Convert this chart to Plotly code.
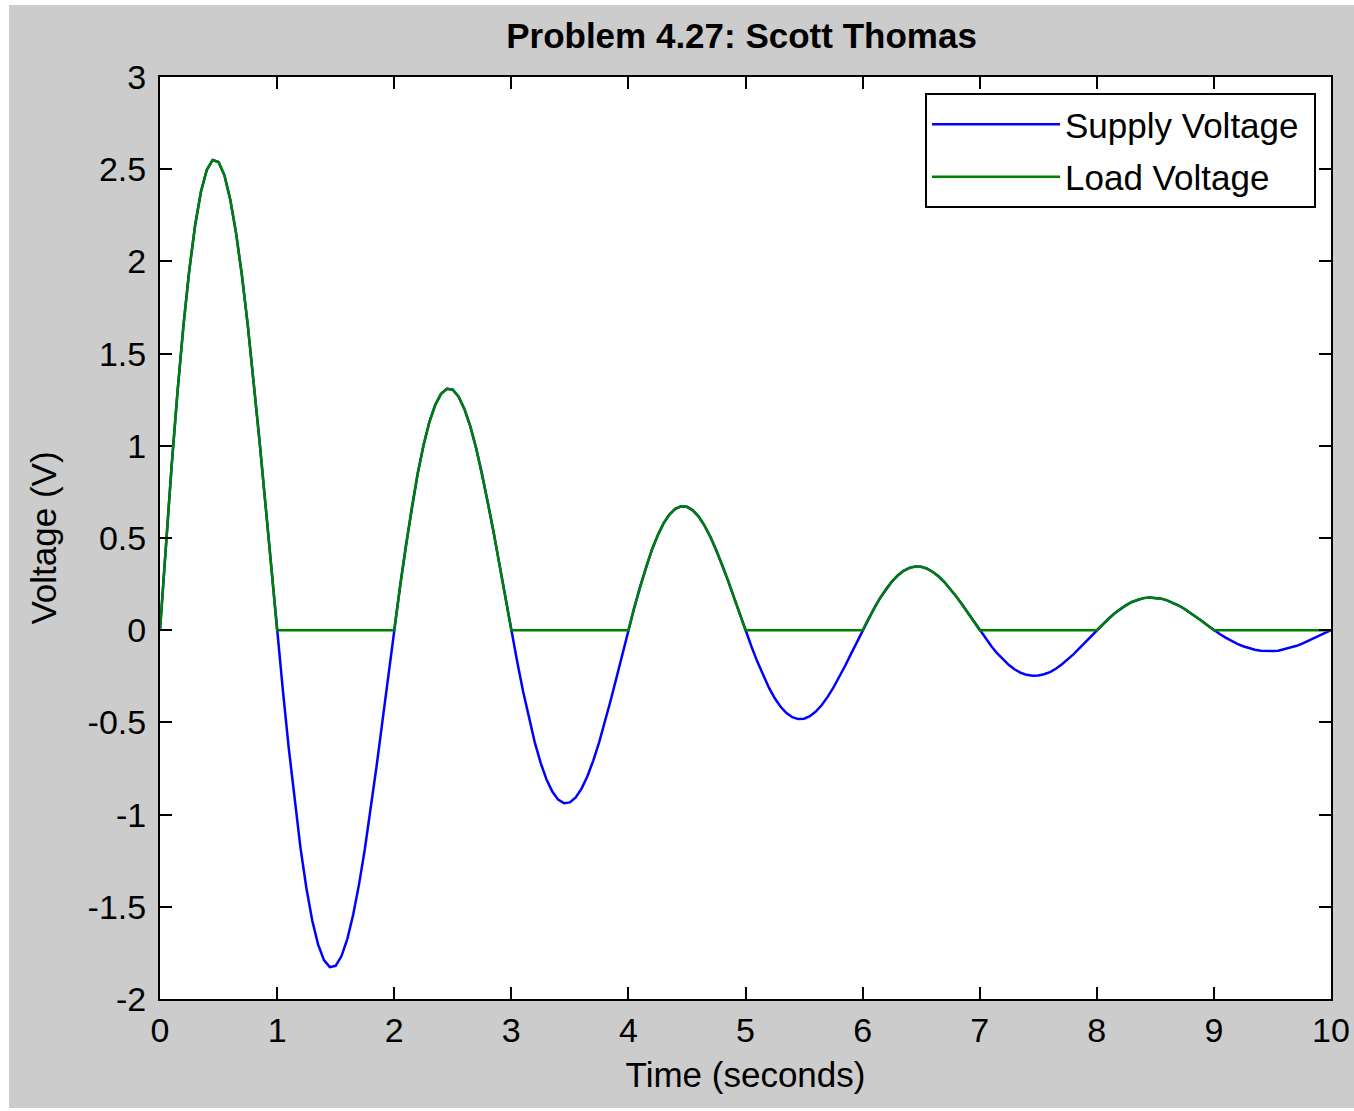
import numpy as np
import plotly.graph_objects as go

# sample times (s), 0.05 s grid from 0 to 10
time_s = np.linspace(0, 10, 201)

# Supply voltage (V), one row per half second
supply_v = [
    0.000, 0.462, 0.897, 1.296, 1.650, 1.952, 2.196, 2.379, 2.497, 2.550,
    2.539, 2.467, 2.336, 2.152, 1.922, 1.652, 1.351, 1.026, 0.687, 0.342,
    0.000, -0.331, -0.642, -0.928, -1.182, -1.398, -1.574, -1.704, -1.789, -1.827,
    -1.820, -1.767, -1.674, -1.542, -1.377, -1.184, -0.968, -0.735, -0.492, -0.245,
    0.000, 0.237, 0.460, 0.665, 0.847, 1.002, 1.128, 1.221, 1.282, 1.309,
    1.304, 1.266, 1.199, 1.105, 0.987, 0.848, 0.693, 0.527, 0.353, 0.176,
    0.000, -0.170, -0.330, -0.477, -0.607, -0.718, -0.808, -0.875, -0.919, -0.938,
    -0.934, -0.907, -0.859, -0.792, -0.707, -0.608, -0.497, -0.377, -0.253, -0.126,
    0.000, 0.122, 0.236, 0.341, 0.435, 0.514, 0.579, 0.627, 0.658, 0.672,
    0.669, 0.650, 0.616, 0.567, 0.507, 0.435, 0.356, 0.270, 0.181, 0.090,
    0.000, -0.087, -0.169, -0.245, -0.312, -0.369, -0.415, -0.449, -0.472, -0.482,
    -0.480, -0.466, -0.441, -0.407, -0.363, -0.312, -0.255, -0.194, -0.130, -0.065,
    0.000, 0.062, 0.121, 0.175, 0.223, 0.264, 0.297, 0.322, 0.338, 0.345,
    0.344, 0.334, 0.316, 0.291, 0.260, 0.224, 0.183, 0.139, 0.093, 0.046,
    0.000, -0.045, -0.087, -0.126, -0.160, -0.189, -0.213, -0.231, -0.242, -0.247,
    -0.246, -0.239, -0.227, -0.209, -0.186, -0.160, -0.131, -0.099, -0.067, -0.033,
    0.000, 0.032, 0.062, 0.090, 0.115, 0.136, 0.153, 0.165, 0.174, 0.177,
    0.176, 0.171, 0.162, 0.150, 0.134, 0.115, 0.094, 0.071, 0.048, 0.024,
    0.000, -0.021, -0.040, -0.058, -0.074, -0.087, -0.098, -0.106, -0.112, -0.114,
    -0.113, -0.111, -0.104, -0.096, -0.086, -0.074, -0.060, -0.046, -0.031, -0.015,
    0.000,
]

# Load voltage (V): positive half-cycles pass, negative half-cycles are 0
load_v = [
    0.000, 0.462, 0.897, 1.296, 1.650, 1.952, 2.196, 2.379, 2.497, 2.550,
    2.539, 2.467, 2.336, 2.152, 1.922, 1.652, 1.351, 1.026, 0.687, 0.342,
    0.0, 0.0, 0.0, 0.0, 0.0, 0.0, 0.0, 0.0, 0.0, 0.0,
    0.0, 0.0, 0.0, 0.0, 0.0, 0.0, 0.0, 0.0, 0.0, 0.0,
    0.000, 0.237, 0.460, 0.665, 0.847, 1.002, 1.128, 1.221, 1.282, 1.309,
    1.304, 1.266, 1.199, 1.105, 0.987, 0.848, 0.693, 0.527, 0.353, 0.176,
    0.0, 0.0, 0.0, 0.0, 0.0, 0.0, 0.0, 0.0, 0.0, 0.0,
    0.0, 0.0, 0.0, 0.0, 0.0, 0.0, 0.0, 0.0, 0.0, 0.0,
    0.000, 0.122, 0.236, 0.341, 0.435, 0.514, 0.579, 0.627, 0.658, 0.672,
    0.669, 0.650, 0.616, 0.567, 0.507, 0.435, 0.356, 0.270, 0.181, 0.090,
    0.0, 0.0, 0.0, 0.0, 0.0, 0.0, 0.0, 0.0, 0.0, 0.0,
    0.0, 0.0, 0.0, 0.0, 0.0, 0.0, 0.0, 0.0, 0.0, 0.0,
    0.000, 0.062, 0.121, 0.175, 0.223, 0.264, 0.297, 0.322, 0.338, 0.345,
    0.344, 0.334, 0.316, 0.291, 0.260, 0.224, 0.183, 0.139, 0.093, 0.046,
    0.0, 0.0, 0.0, 0.0, 0.0, 0.0, 0.0, 0.0, 0.0, 0.0,
    0.0, 0.0, 0.0, 0.0, 0.0, 0.0, 0.0, 0.0, 0.0, 0.0,
    0.000, 0.032, 0.062, 0.090, 0.115, 0.136, 0.153, 0.165, 0.174, 0.177,
    0.176, 0.171, 0.162, 0.150, 0.134, 0.115, 0.094, 0.071, 0.048, 0.024,
    0.0, 0.0, 0.0, 0.0, 0.0, 0.0, 0.0, 0.0, 0.0, 0.0,
    0.0, 0.0, 0.0, 0.0, 0.0, 0.0, 0.0, 0.0, 0.0, 0.0,
    0.000,
]

x_ticks = [0, 1, 2, 3, 4, 5, 6, 7, 8, 9, 10]
y_ticks = [-2, -1.5, -1, -0.5, 0, 0.5, 1, 1.5, 2, 2.5, 3]
y_tick_labels = ["-2", "-1.5", "-1", "-0.5", "0", "0.5", "1", "1.5", "2", "2.5", "3"]

FONT = "Arial, 'Liberation Sans', sans-serif"

fig = go.Figure()
fig.add_trace(go.Scatter(x=time_s, y=supply_v, mode="lines", name="Supply Voltage&nbsp;",
                         line=dict(color="#0000ff", width=2.5), legendgroup="a"))
fig.add_trace(go.Scatter(x=time_s, y=load_v, mode="lines", name="Load Voltage",
                         line=dict(color="#008000", width=2.5), legendgroup="b"))

axis_common = dict(
    showgrid=False, zeroline=False, showline=True, linecolor="black", linewidth=2,
    mirror="ticks", ticks="inside", ticklen=12, tickwidth=2, tickcolor="black",
    tickfont=dict(family=FONT, size=34, color="#000000"), automargin=False,
)

fig.update_layout(
    width=1354, height=1111,
    margin=dict(l=160, r=23, t=77, b=112),
    paper_bgcolor="#cccccc", plot_bgcolor="white",
    font=dict(family=FONT, color="#000000"),
    title=dict(text="Problem 4.27: Scott Thomas", x=0.4966, xref="paper", xanchor="center",
               y=1 - 36 / 1111, yref="container", yanchor="middle",
               font=dict(family=FONT, size=35, color="#000000", weight="bold")),
    xaxis=dict(range=[0, 10], tickvals=x_ticks, ticktext=[str(v) for v in x_ticks],
               title=dict(text="Time (seconds)", font=dict(family=FONT, size=35), standoff=15),
               **axis_common),
    yaxis=dict(range=[-2, 3], tickvals=y_ticks, ticktext=y_tick_labels, ticklabelstandoff=5,
               title=dict(text="Voltage (V)", font=dict(family=FONT, size=35), standoff=20),
               **axis_common),
    legend=dict(x=(1316 - 160) / 1171, y=(999 - 93) / 922, xanchor="right", yanchor="top",
                bgcolor="white", bordercolor="black", borderwidth=2,
                font=dict(family=FONT, size=35, color="#000000"),
                traceorder="grouped", tracegroupgap=4, itemwidth=128),
    showlegend=True,
    shapes=[
        dict(type="rect", xref="paper", yref="paper", x0=-0.2, x1=(9 - 160) / 1171,
             y0=-0.2, y1=1.2, fillcolor="white", line=dict(width=0), layer="above"),
        dict(type="rect", xref="paper", yref="paper", x0=-0.2, x1=1.2,
             y0=(999 - 5) / 922, y1=1.2, fillcolor="white", line=dict(width=0), layer="above"),
        dict(type="rect", xref="paper", yref="paper", x0=-0.2, x1=1.2,
             y0=-0.2, y1=(999 - 1108) / 922, fillcolor="white", line=dict(width=0), layer="above"),
    ],
)

fig.write_html("out.html")
